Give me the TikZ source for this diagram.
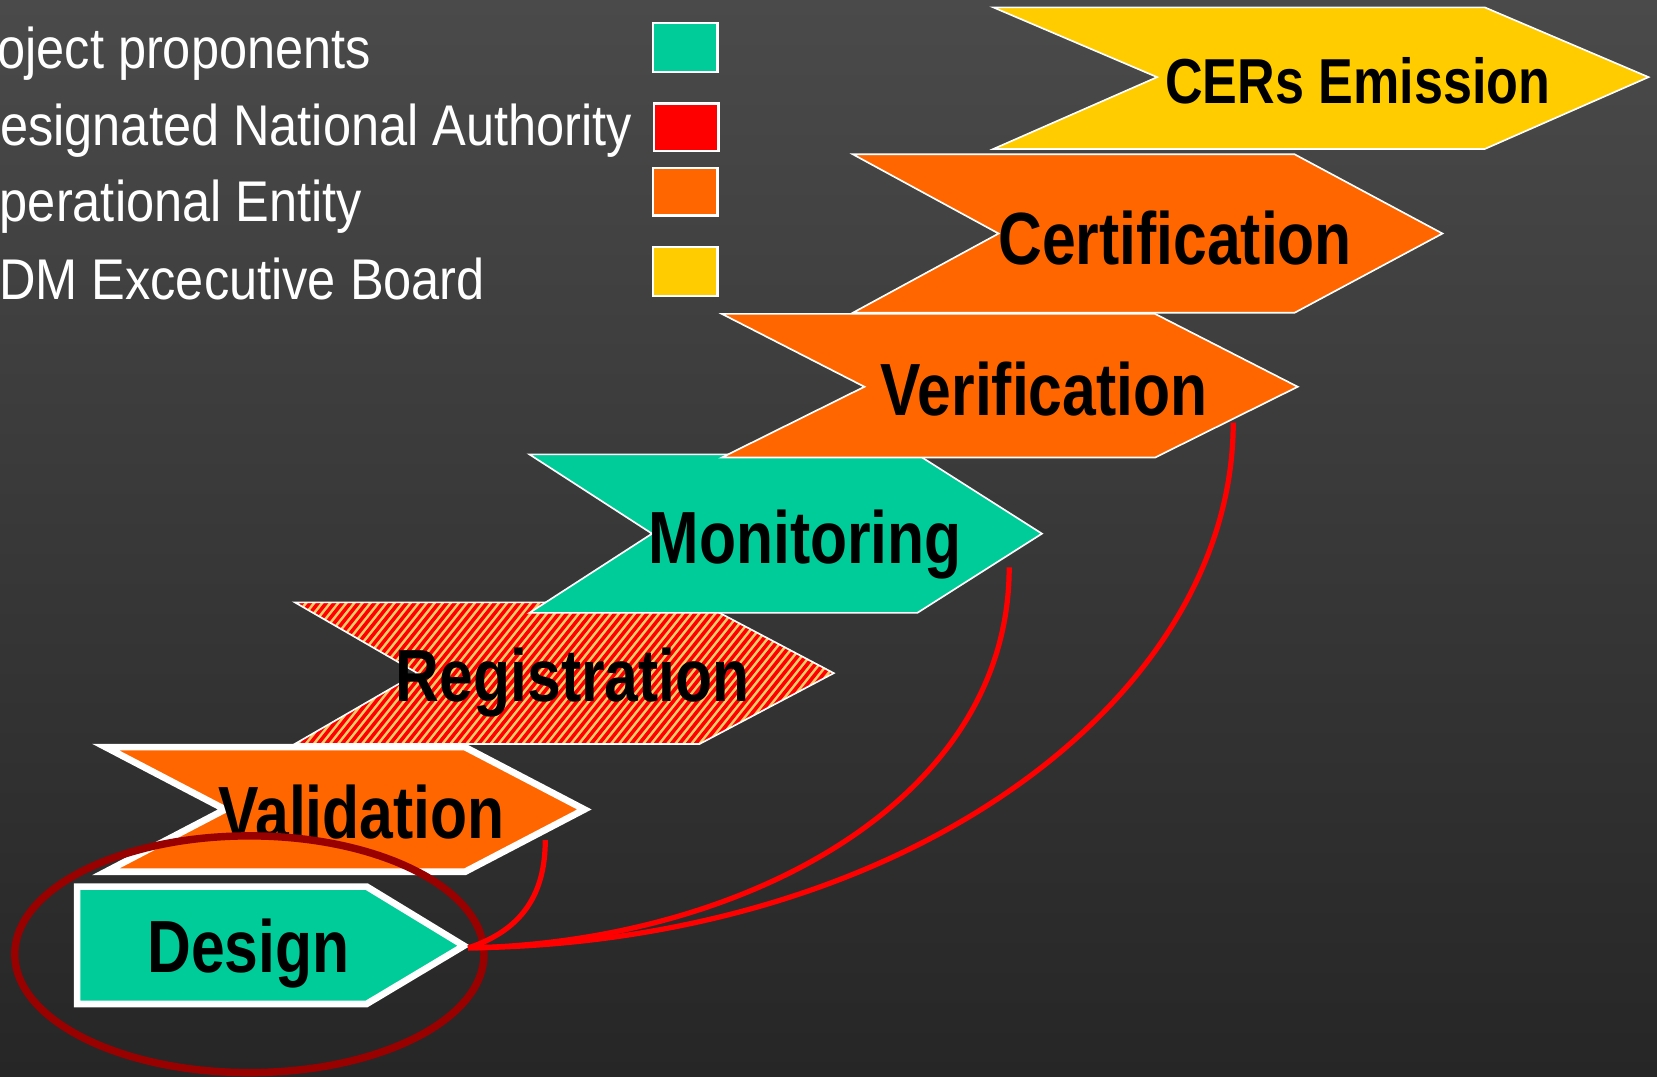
\documentclass[tikz,border=0pt]{standalone}
\usepackage{fontspec}
\newfontfamily\nar{Liberation Sans}[FakeStretch=0.82]
\newfontfamily\legf{Liberation Sans}[FakeStretch=0.88]
\definecolor{bgtop}{RGB}{74,74,74}
\definecolor{bgbot}{RGB}{38,38,38}
\definecolor{teal}{RGB}{0,204,153}
\definecolor{dnared}{RGB}{255,0,0}
\definecolor{oeorange}{RGB}{255,102,0}
\definecolor{ebyellow}{RGB}{255,204,0}
\definecolor{lightor}{RGB}{255,204,102}
\definecolor{ellred}{RGB}{153,0,0}
\definecolor{curvered}{RGB}{255,0,0}
\tikzset{
  legtext/.style={anchor=base west,inner sep=0pt,text=white,font=\legf\fontsize{15.45}{16}\selectfont},
  legbox/.style={draw=white,line width=0.6pt},
  lab/.style={anchor=base,inner sep=0pt,text=black,font=\nar\bfseries\fontsize{19.9}{20}\selectfont},
  thinline/.style={draw=white,line width=0.45pt,line join=miter},
  thickline/.style={draw=white,line width=1.8pt,line join=miter,miter limit=20},
  link/.style={draw=curvered,line width=1.4pt},
}
\begin{document}
\begin{tikzpicture}[x=0.01cm,y=-0.01cm]
\useasboundingbox (0,0) rectangle (1568,1019);
\clip (0,0) rectangle (1568,1019);
\shade[top color=bgtop,bottom color=bgbot] (0,0) rectangle (1568,1019);

% legend
\node[legtext] (l1) at (-51,65) {Project proponents};
\node[legtext] (l2) at (-35,138) {Designated National Authority};
\node[legtext] (l3) at (-38,210) {Operational Entity};
\node[legtext] (l4) at (-36,283) {CDM Excecutive Board};
\filldraw[legbox,fill=teal] (618,22) rectangle (679,68);
\filldraw[legbox,fill=dnared] (619,98) rectangle (680,143);
\filldraw[legbox,fill=oeorange] (618,159) rectangle (679,204);
\filldraw[legbox,fill=ebyellow] (618,234) rectangle (679,280);

% Registration (striped)
\begin{scope}
\clip (279,570) -- (662,570) -- (789,637) -- (662,704) -- (279,704) -- (395,637) -- cycle;
\fill[lightor] (270,560) rectangle (800,712);
\foreach \i in {0,...,90} {
  \draw[dnared,line width=0.95pt] ({150+\i*7.6},712) -- ++(120,-150);
}
\end{scope}
\draw[thinline] (279,570) -- (662,570) -- (789,637) -- (662,704) -- (279,704) -- (395,637) -- cycle;

% Monitoring
\filldraw[thinline,fill=teal] (501,430) -- (868,430) -- (986,505) -- (868,580) -- (501,580) -- (617,505) -- cycle;

% Validation
\filldraw[thickline,fill=oeorange] (100,707) -- (440,707) -- (553,766) -- (440,825) -- (100,825) -- (213,766) -- cycle;

% Design
\filldraw[thickline,fill=teal] (73,839) -- (347,839) -- (439,895) -- (347,950) -- (73,950) -- cycle;

% Verification
\filldraw[thinline,fill=oeorange] (683,297) -- (1093,297) -- (1228,366) -- (1093,433) -- (683,433) -- (818,366) -- cycle;

% Certification
\filldraw[thinline,fill=oeorange] (807,146) -- (1225,146) -- (1365,221) -- (1225,296) -- (807,296) -- (945,221) -- cycle;

% CERs Emission
\filldraw[thinline,fill=ebyellow] (940,7) -- (1405,7) -- (1560,73) -- (1405,141) -- (940,141) -- (1095,73) -- cycle;

% labels
\node[lab] (cers) at (1285,98) {\fontsize{17.1}{18}\selectfont CERs Emission};
\node[lab] (cert) at (1112,250) {Certification};
\node[lab] (veri) at (988,393) {Verification};
\node[lab] (moni) at (762,533) {Monitoring};
\node[lab] (regi) at (542,664) {Registration};
\node[lab] (vali) at (342,793) {Validation};
\node[lab] (desi) at (235,920) {Design};

% highlight ellipse
\draw[ellred,line width=2pt] (236,903) ellipse [x radius=222,y radius=112];

% links
\coordinate (designTip) at (443,897);
\coordinate (valEnd) at (516,795);
\coordinate (monEnd) at (955,537);
\coordinate (verEnd) at (1167,400);
\draw[link] (designTip) .. controls (495,880) and (516,845) .. (valEnd);
\draw[link] (designTip) .. controls (700,892) and (955,760) .. (monEnd);
\draw[link] (designTip) .. controls (860,892) and (1167,660) .. (verEnd);
\end{tikzpicture}
\end{document}
